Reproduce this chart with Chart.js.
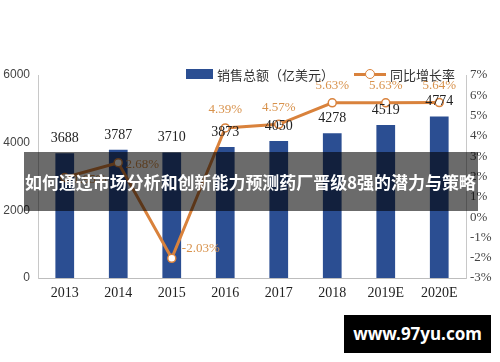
<!DOCTYPE html>
<html>
<head>
<meta charset="utf-8">
<script src="https://cdn.jsdelivr.net/npm/chart.js@4"></script>
<style>
  html, body { margin: 0; padding: 0; background: #fff; }
  #wrap { position: relative; width: 500px; height: 362px; overflow: hidden; }
  #chart { position: absolute; left: 0; top: 0; }
  #legend { position: absolute; top: 63px; left: 186px; font: 13px "Noto Sans CJK SC", sans-serif; color: #333; white-space: nowrap; }
  #legend span { display: inline-block; vertical-align: middle; }
  #banner { position: absolute; left: 24px; top: 152px; width: 454px; height: 59px; background: rgba(0,0,0,0.58); }
  #banner span { position: absolute; left: 0; top: 0; color: #fff; font: bold 18px "Noto Sans CJK SC", sans-serif; line-height: 59px; white-space: nowrap; }
  #mark { position: absolute; left: 344px; top: 315px; width: 147px; height: 38px; background: #000; color: #fff;
          font: bold 17px "Noto Sans", sans-serif; line-height: 38px; text-align: center; }
</style>
</head>
<body>
<div id="wrap">
  <canvas id="chart" width="500" height="362"></canvas>
  <div id="legend"></div>
  <div id="banner"><span id="title">如何通过市场分析和创新能力预测药厂晋级8强的潜力与策略</span></div>
  <div id="mark">www.97yu.com</div>
</div>
<script>
const years = ['2013', '2014', '2015', '2016', '2017', '2018', '2019E', '2020E'];
const sales = [3688, 3787, 3710, 3873, 4050, 4278, 4519, 4774];
const growth = [1.95, 2.68, -2.03, 4.39, 4.57, 5.63, 5.63, 5.64];
const salesLabel = '销售总额（亿美元）';
const growthLabel = '同比增长率';

const barColor = '#2b4e92';
const lineColor = '#d9823c';

// label offsets for the growth-rate values
const growthOffsets = [[25, 2], [24, 2], [29, -10], [0, -18], [0, -17], [0, -17], [0, -17], [0, -17]];

const labelPlugin = {
  id: 'labels',
  afterDatasetsDraw(chart) {
    const ctx = chart.ctx;
    ctx.save();
    ctx.textAlign = 'center';
    ctx.textBaseline = 'middle';
    ctx.font = '14px "Liberation Serif", serif';
    ctx.fillStyle = '#222';
    chart.getDatasetMeta(0).data.forEach((bar, i) => {
      ctx.fillText(String(sales[i]), bar.x, bar.y - 15);
    });
    ctx.font = '13px "Liberation Serif", serif';
    ctx.fillStyle = '#d8924c';
    chart.getDatasetMeta(1).data.forEach((pt, i) => {
      const o = growthOffsets[i];
      ctx.fillText(growth[i].toFixed(2) + '%', pt.x + o[0], pt.y + o[1]);
    });
    ctx.restore();
  }
};

const ctx = document.getElementById('chart').getContext('2d');
new Chart(ctx, {
  data: {
    labels: years,
    datasets: [{
      type: 'bar',
      label: salesLabel,
      data: sales,
      yAxisID: 'y',
      backgroundColor: barColor,
      categoryPercentage: 1,
      barPercentage: 0.35,
      order: 2
    }, {
      type: 'line',
      label: growthLabel,
      data: growth,
      yAxisID: 'y1',
      borderColor: lineColor,
      borderWidth: 3,
      pointRadius: 4,
      pointBackgroundColor: '#fff',
      pointBorderColor: lineColor,
      pointBorderWidth: 1.5,
      tension: 0,
      order: 1
    }]
  },
  options: {
    responsive: false,
    animation: false,
    layout: { padding: { top: 75, left: 0, right: 0, bottom: 0 } },
    plugins: { legend: { display: false }, tooltip: { enabled: false } },
    scales: {
      x: {
        grid: { display: false, drawTicks: false },
        border: { color: '#bdbdbd' },
        ticks: { color: '#222', font: { family: 'Liberation Serif', size: 14 }, padding: 7, maxRotation: 0 },
        afterFit(s) { s.height = 84; }
      },
      y: {
        position: 'left',
        min: 0, max: 6000,
        grid: { display: false, drawTicks: false },
        border: { color: '#c8c8c8' },
        ticks: { stepSize: 2000, color: '#444', font: { family: 'Liberation Sans', size: 12 }, padding: 8,
                 callback: v => String(v) },
        afterFit(s) { s.width = 38; }
      },
      y1: {
        position: 'right',
        min: -3, max: 7,
        grid: { display: false, drawTicks: false },
        border: { color: '#c8c8c8' },
        ticks: { stepSize: 1, color: '#444', font: { family: 'Liberation Serif', size: 13 }, padding: 4,
                 callback: v => v + '%' },
        afterFit(s) { s.width = 34; }
      }
    }
  },
  plugins: [labelPlugin]
});

// simple legend built from the dataset labels
document.getElementById('legend').innerHTML =
  '<span style="width:27px;height:10px;background:' + barColor + ';margin-right:4px"></span>' +
  '<span>' + salesLabel + '</span>' +
  '<span style="position:relative;width:32px;height:10px;margin:0 4px 0 20px">' +
    '<span style="position:absolute;left:0;top:4px;width:32px;height:3px;background:' + lineColor + '"></span>' +
    '<span style="position:absolute;left:11px;top:0;width:8px;height:8px;border:1.5px solid ' + lineColor + ';border-radius:50%;background:#fff"></span>' +
  '</span>' +
  '<span>' + growthLabel + '</span>';

// fit the banner title to the band width
const title = document.getElementById('title');
const w = title.getBoundingClientRect().width;
title.style.fontSize = (18 * 451 / w) + 'px';
title.style.left = '1px';
</script>
</body>
</html>
